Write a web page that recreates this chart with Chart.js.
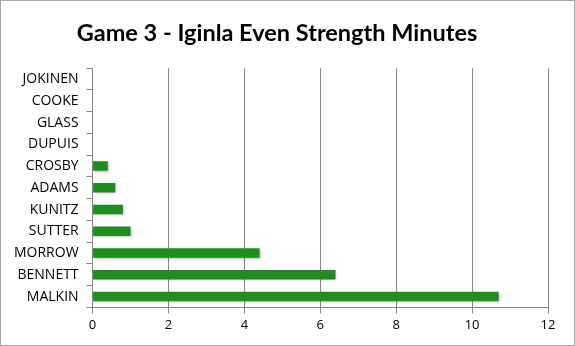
<!DOCTYPE html>
<html>
<head>
<meta charset="utf-8">
<script src="https://cdn.jsdelivr.net/npm/chart.js@4"></script>
<style>
  html, body { margin: 0; padding: 0; background: #fff; }
  #wrap { position: relative; width: 573px; height: 344px; border: 1px solid #a6a6a6; }
</style>
</head>
<body>
<div id="wrap"><canvas id="chart"></canvas></div>
<script>
// data
const players = ['JOKINEN', 'COOKE', 'GLASS', 'DUPUIS', 'CROSBY', 'ADAMS', 'KUNITZ', 'SUTTER', 'MORROW', 'BENNETT', 'MALKIN'];
const minutes = [0, 0, 0, 0, 0.4, 0.6, 0.8, 1.0, 4.4, 6.4, 10.7];
const xTicks = [0, 2, 4, 6, 8, 10, 12];

// soft shadow under the bars
const barShadow = {
    id: 'barShadow',
    beforeDatasetsDraw(chart) {
        const c = chart.ctx;
        c.save();
        c.shadowColor = 'rgba(0,0,0,0.3)';
        c.shadowBlur = 3;
        c.shadowOffsetX = 1;
        c.shadowOffsetY = 1;
    },
    afterDatasetsDraw(chart) {
        chart.ctx.restore();
    }
};

let ctx = document.getElementById('chart').getContext('2d');
new Chart(ctx, {
    type: 'bar',
    data: {
        labels: players,
        datasets: [{
            data: minutes,
            backgroundColor: '#228b22',
            categoryPercentage: 0.9,
            barPercentage: 0.48
        }]
    },
    options: {
        indexAxis: 'y',
        responsive: true,
        maintainAspectRatio: false,
        animation: false,
        layout: { padding: { top: 2, right: 26, bottom: 8, left: 5 } },
        plugins: {
            legend: { display: false },
            tooltip: { enabled: false },
            title: {
                display: true,
                text: 'Game 3 - Iginla Even Strength Minutes',
                color: '#000',
                font: { family: 'Lato', size: 23.5, weight: 'bold' },
                padding: { top: 16, bottom: 21 }
            }
        },
        scales: {
            x: {
                min: 0,
                max: 12,
                afterBuildTicks: axis => { axis.ticks = xTicks.map(v => ({ value: v })); },
                grid: { color: '#888', lineWidth: 1, tickLength: 6 },
                border: { color: '#888' },
                ticks: { color: '#000', font: { family: 'Open Sans', size: 13 }, padding: 4 }
            },
            y: {
                grid: { offset: true, drawOnChartArea: false, color: '#888', tickLength: 6 },
                border: { color: '#888' },
                ticks: { color: '#000', font: { family: 'Open Sans', size: 14 }, padding: 8 }
            }
        }
    },
    plugins: [barShadow]
});
</script>
</body>
</html>
